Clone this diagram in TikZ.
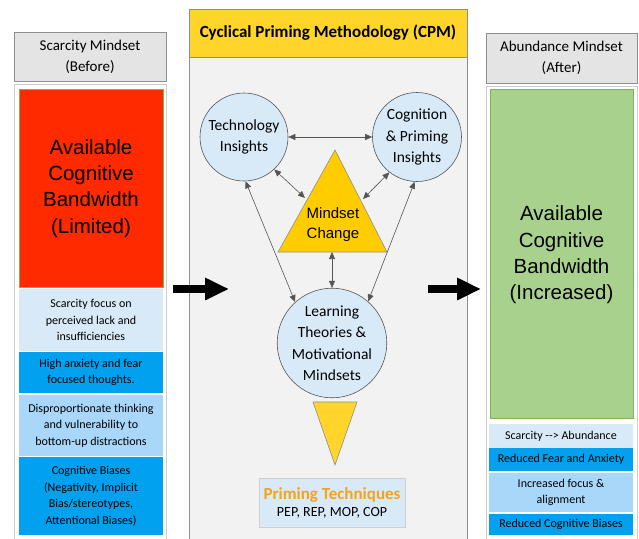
\documentclass[tikz,border=0pt]{standalone}
\usepackage{fontspec}
\setmainfont{Carlito}
\newfontfamily\arialfont{Liberation Sans}
\usetikzlibrary{arrows.meta}

\definecolor{hdrgray}{HTML}{E4E4E4}
\definecolor{hdredge}{HTML}{8E8E8E}
\definecolor{paledge}{HTML}{CFCFCF}
\definecolor{limred}{HTML}{FF2A00}
\definecolor{incgreen}{HTML}{A9D18E}
\definecolor{greenedge}{HTML}{7DB553}
\definecolor{paleblue}{HTML}{D8EAF7}
\definecolor{brightblue}{HTML}{02A1F0}
\definecolor{midblue}{HTML}{A9D7FA}
\definecolor{cpmgold}{HTML}{FFD52B}
\definecolor{trigold}{HTML}{FFCC00}
\definecolor{panelgray}{HTML}{F2F2F2}
\definecolor{linkgray}{HTML}{555555}
\definecolor{primeorange}{HTML}{F7A21B}

\tikzset{
  hdrbox/.style={draw=hdredge, line width=0.8pt, fill=hdrgray, inner sep=0pt,
    align=center, font=\fontsize{15}{21}\selectfont},
  outerbox/.style={draw=paledge, line width=0.8pt, fill=white},
  bigtext/.style={inner sep=0pt, align=center,
    font=\arialfont\fontsize{20.5}{26.3}\selectfont},
  infobox/.style={inner sep=0pt, align=center, minimum width=144pt,
    font=\fontsize{12}{16.5}\selectfont},
  bubble/.style={circle, draw=linkgray, line width=0.6pt, fill=paleblue,
    inner sep=0pt, align=center, font=\fontsize{15.5}{21.5}\selectfont},
  link/.style={draw=linkgray, line width=0.6pt,
    {Triangle[length=7pt,width=6pt]}-{Triangle[length=7pt,width=6pt]}},
  bigarrow/.style={draw=black, line width=8pt,
    -{Triangle[length=24pt,width=21pt]}},
}

\begin{document}
\begin{tikzpicture}[x=1pt,y=-1pt]
\useasboundingbox (0,0) rectangle (639,538);

% ---------- left column: scarcity mindset ----------
\node[hdrbox, minimum width=152pt, minimum height=49pt] (lhdr) at (90,56.5)
  {Scarcity Mindset\\(Before)};
\draw[outerbox] (14,84) rectangle (166,545);
\node[draw=greenedge, line width=0.5pt, fill=limred, minimum width=144pt,
  minimum height=198pt, inner sep=0pt] (lred) at (91,188) {};
\node[bigtext] (ltxt) at (91,188.5)
  {Available\\Cognitive\\Bandwidth\\(Limited)};
\node[infobox, fill=paleblue, minimum height=62pt] (l1) at (91,320)
  {Scarcity focus on\\perceived lack and\\insufficiencies};
\node[infobox, fill=brightblue, minimum height=41pt] (l2) at (91,372.5)
  {High anxiety and fear\\focused thoughts.};
\node[infobox, fill=midblue, minimum height=61pt] (l3) at (91,425.5)
  {Disproportionate thinking\\and vulnerability to\\bottom-up distractions};
\node[infobox, fill=brightblue, minimum height=78pt] (l4) at (91,496)
  {Cognitive Biases\\(Negativity, Implicit\\Bias/stereotypes,\\Attentional Biases)};

% ---------- middle column: CPM ----------
\node[draw=hdredge, line width=0.6pt, fill=panelgray, minimum width=278pt,
  minimum height=488pt, inner sep=0pt] (panel) at (328,301) {};
\node[draw=hdredge, line width=0.6pt, fill=cpmgold, minimum width=278pt,
  minimum height=48pt, inner sep=0pt, font=\bfseries\fontsize{17}{20}\selectfont]
  (cpm) at (328,33) {Cyclical Priming Methodology (CPM)};

\node[bubble, minimum size=88pt] (tech) at (244,137) {Technology\\Insights};
\node[bubble, minimum size=89pt] (cog) at (417,137) {Cognition\\\& Priming\\Insights};
\node[bubble, minimum size=96pt] (learn) at (332,343)
  {Learning\\Theories \&\\Motivational\\Mindsets};

% mindset-change triangle
\coordinate (tapex) at (335,150);
\coordinate (tbl) at (278,252);
\coordinate (tbr) at (387,252);
\coordinate (tbase) at (332,252);
\coordinate (tleft) at (305,198);
\coordinate (tright) at (363,199);
\draw[draw=hdredge, line width=0.6pt, fill=trigold] (tapex) -- (tbr) -- (tbl) -- cycle;
\node[inner sep=0pt, align=center, font=\arialfont\fontsize{15}{20}\selectfont]
  (mc) at (333,225) {Mindset\\Change};

% downward triangle
\coordinate (dtl) at (313,402);
\coordinate (dtr) at (357,402);
\coordinate (dtip) at (335,465);
\draw[draw=hdredge, line width=0.6pt, fill=cpmgold] (dtl) -- (dtr) -- (dtip) -- cycle;

\node[draw=paledge, line width=0.6pt, fill=paleblue, minimum width=146pt,
  minimum height=49pt, inner sep=0pt, align=center] (prime) at (332,502.5)
  {{\color{primeorange}\bfseries\fontsize{17}{20}\selectfont Priming Techniques}\\[5pt]
   {\fontsize{14}{16}\selectfont PEP, REP, MOP, COP}};

% connectors
\draw[link] (tech) -- (cog);
\draw[link] (tech.-47) -- (tleft);
\draw[link] (cog.-128) -- (tright);
\draw[link] (tech.-88) -- (learn.132);
\draw[link] (cog.-93) -- (learn.49);
\draw[link] (tbase) -- (learn.north);

% ---------- right column: abundance mindset ----------
\node[hdrbox, minimum width=151pt, minimum height=50pt] (rhdr) at (561.5,58)
  {Abundance Mindset\\(After)};
\draw[outerbox] (486,86) rectangle (637,545);
\node[draw=greenedge, line width=0.6pt, fill=incgreen, minimum width=143pt,
  minimum height=329pt, inner sep=0pt] (rgreen) at (561.5,253.5) {};
\node[bigtext] (rtxt) at (561.5,255)
  {Available\\Cognitive\\Bandwidth\\(Increased)};
\node[infobox, fill=paleblue, minimum height=24pt] (r1) at (561,436)
  {Scarcity -{}-{}> Abundance};
\node[infobox, fill=brightblue, minimum height=23pt] (r2) at (561,459.5)
  {Reduced Fear and Anxiety};
\node[infobox, fill=midblue, minimum height=39pt] (r3) at (561,492.5)
  {Increased focus \&\\alignment};
\node[infobox, fill=brightblue, minimum height=21pt] (r4) at (561,524.5)
  {Reduced Cognitive Biases};

% ---------- flow arrows ----------
\coordinate (la0) at (173,289);
\coordinate (la1) at (229,289);
\coordinate (ra0) at (428,289);
\coordinate (ra1) at (481,289);
\draw[bigarrow] (la0) -- (la1);
\draw[bigarrow] (ra0) -- (ra1);
\end{tikzpicture}
\end{document}
